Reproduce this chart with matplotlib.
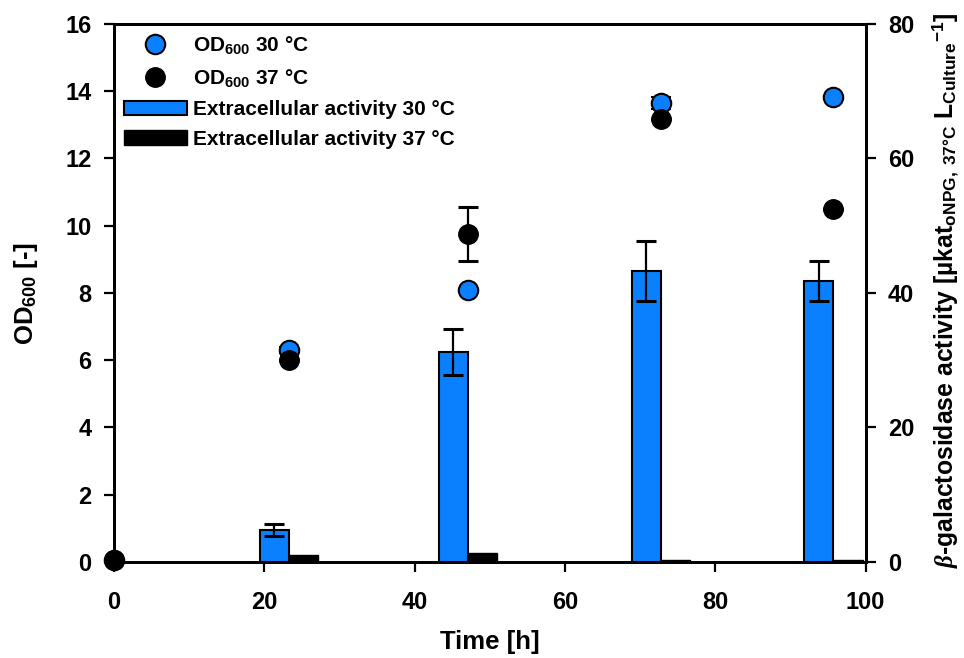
import matplotlib
matplotlib.use("Agg")
from matplotlib import pyplot as plt
from matplotlib.lines import Line2D
from matplotlib.patches import Patch

plt.rcParams['font.family'] = ['Liberation Sans', 'DejaVu Sans']
plt.rcParams['font.weight'] = 'bold'
plt.rcParams['mathtext.fontset'] = 'custom'
plt.rcParams['mathtext.it'] = 'Liberation Serif:italic'
plt.rcParams['mathtext.rm'] = 'Liberation Sans:bold'

# sampling times [h]
time = [0, 23.3, 47.1, 72.8, 95.7]

# OD600
od_30 = [0.05, 6.3, 8.1, 13.65, 13.82]
od_30_err = [0.0, 0.1, 0.0, 0.18, 0.0]
od_37 = [0.05, 6.0, 9.76, 13.18, 10.5]
od_37_err = [0.0, 0.0, 0.8, 0.0, 0.0]

# extracellular beta-galactosidase activity
bar_time = [23.3, 47.1, 72.8, 95.7]
act_30 = [4.7, 31.2, 43.3, 41.8]
act_30_err = [0.9, 3.4, 4.5, 3.0]
act_37 = [1.0, 1.4, 0.3, 0.3]

blue = '#0a80ff'
bar_w = 3.9

fig = plt.figure(figsize=(9.64, 6.58), dpi=100)
ax = fig.add_axes([0.118, 0.146, 0.780, 0.8175])
ax2 = ax.twinx()

# bars on the right axis
ax2.bar(bar_time, act_30, width=-bar_w, align='edge', color=blue,
        edgecolor='black', linewidth=1.5, zorder=2)
ax2.bar(bar_time, act_37, width=bar_w, align='edge', color='black',
        edgecolor='black', linewidth=1.0, zorder=2)
ax2.errorbar([t - bar_w / 2 for t in bar_time], act_30, yerr=act_30_err,
             fmt='none', ecolor='black', elinewidth=1.6, capsize=7,
             capthick=2.2, zorder=3)
ax2.set_ylim(0, 80)
ax2.set_yticks([0, 20, 40, 60, 80])

# OD points on the left axis, drawn on top
ax.set_zorder(ax2.get_zorder() + 1)
ax.patch.set_visible(False)
ax.errorbar(time, od_30, yerr=od_30_err, fmt='o', ms=14, mfc=blue, mec='black',
            mew=1.5, ecolor='black', elinewidth=1.6, capsize=7, capthick=2.2,
            clip_on=False, zorder=4)
ax.errorbar(time, od_37, yerr=od_37_err, fmt='o', ms=14, mfc='black', mec='black',
            ecolor='black', elinewidth=1.6, capsize=7, capthick=2.2,
            clip_on=False, zorder=5)

ax.set_xlim(0, 100)
ax.set_ylim(0, 16)
ax.set_xticks([0, 20, 40, 60, 80, 100])
ax.set_yticks(range(0, 17, 2))

for a in (ax, ax2):
    for s in a.spines.values():
        s.set_linewidth(2.0)
    a.tick_params(direction='out', length=7, width=1.6, labelsize=17, pad=9)
    for lab in a.get_xticklabels() + a.get_yticklabels():
        lab.set_fontweight('bold')
ax.tick_params(axis='x', pad=14)

ax.set_xlabel('Time [h]', fontsize=18.5, fontweight='bold')
ax.set_ylabel(r'OD$_{\mathregular{600}}$ [-]', fontsize=18.5, fontweight='bold')
ax2.set_ylabel(r'$\beta$-galactosidase activity [µkat$_{\mathregular{oNPG,\ 37°C}}$ '
               r'L$_{\mathregular{Culture}}$$^{\mathregular{-1}}$]',
               fontsize=17.8, fontweight='bold')
ax.xaxis.set_label_coords(0.5, -0.126)
ax.yaxis.set_label_coords(-0.098, 0.5)
ax2.yaxis.set_label_coords(1.086, 0.505)

handles = [
    Line2D([], [], marker='o', ls='none', ms=14, mfc=blue, mec='black', mew=1.5),
    Line2D([], [], marker='o', ls='none', ms=14, mfc='black', mec='black'),
    Patch(facecolor=blue, edgecolor='black', linewidth=1.5),
    Patch(facecolor='black', edgecolor='black'),
]
labels = [r'OD$_{\mathregular{600}}$ 30 °C', r'OD$_{\mathregular{600}}$ 37 °C',
          'Extracellular activity 30 °C', 'Extracellular activity 37 °C']
ax.legend(handles, labels, loc='upper left', frameon=False,
          prop={'weight': 'bold', 'size': 15}, handlelength=3.0,
          handleheight=0.7, handletextpad=0.3, labelspacing=0.52,
          borderaxespad=0.2, borderpad=0.3)

fig.savefig('out.png', dpi=100)
